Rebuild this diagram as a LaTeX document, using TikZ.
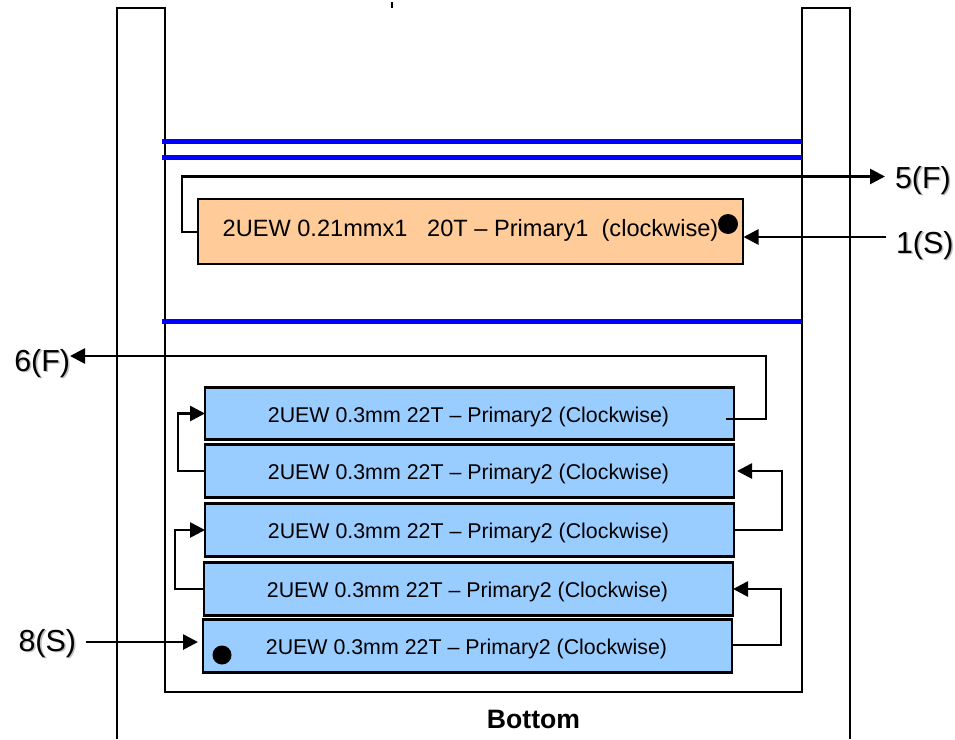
\documentclass[tikz,border=0pt]{standalone}
\usepackage{fontspec}
\setmainfont{Liberation Sans}
\usetikzlibrary{arrows.meta}
\definecolor{coilorange}{HTML}{FFCC99}
\definecolor{coilblue}{HTML}{99CCFF}
\definecolor{tapeblue}{HTML}{0000FF}
\newcommand{\shadowed}[1]{\rlap{\kern1.6pt\raisebox{-1.6pt}{\textcolor{black!25}{#1}}}#1}
\tikzset{
  bobbinline/.style={draw=black,line width=2.7pt,line join=miter},
  tape/.style={draw=tapeblue,line width=5pt},
  coil/.style={draw=black,line width=2.8pt,inner sep=0pt,outer sep=0pt,minimum height=#1},
  orangecoil/.style={coil=65pt,fill=coilorange,minimum width=545pt,font=\fontsize{23.6pt}{27pt}\selectfont,text height=14pt,text depth=5pt},
  bluecoil/.style={coil=52.5pt,fill=coilblue,minimum width=529pt,font=\fontsize{21.36pt}{25pt}\selectfont,text height=21.6pt,text depth=4.6pt,execute at begin node=\kern-2pt},
  wire/.style={draw=black,line width=2.7pt},
  arrowwire/.style={wire,-{Triangle[length=15pt,width=15pt]}},
  pin/.style={inner sep=0pt,outer sep=0pt,font=\fontsize{30.4pt}{35pt}\selectfont},
  dot/.style={circle,fill=black,inner sep=0pt,minimum size=#1},
  bottomlabel/.style={inner sep=0pt,font=\bfseries\fontsize{26.6pt}{30pt}\selectfont}
}
\begin{document}
\begin{tikzpicture}[x=1pt,y=-1pt]
\useasboundingbox (0,0) rectangle (955,739);
\fill[white] (0,0) rectangle (955,739);
% bobbin outline
\draw[bobbinline] (117,739) -- (117,8) -- (165,8) -- (165,692) -- (802,692) -- (802,8) -- (850,8) -- (850,739);
\draw[line width=2.4pt] (392,2) -- (392,8);
% tapes
\coordinate (t1l) at (162,141.5); \coordinate (t1r) at (802,141.5);
\coordinate (t2l) at (162,157);   \coordinate (t2r) at (802,157);
\coordinate (t3l) at (162,321.5); \coordinate (t3r) at (802,321.5);
\draw[tape] (t1l) -- (t1r);
\draw[tape] (t2l) -- (t2r);
\draw[tape] (t3l) -- (t3r);
% windings
\node[orangecoil] (p1) at (470.5,231.5) {2UEW 0.21mmx1\ \ \ 20T – Primary1\ \ (clockwise)};
\node[bluecoil] (b1) at (469.5,413.5) {2UEW 0.3mm 22T – Primary2 (Clockwise)};
\node[bluecoil] (b2) at (469.5,471) {2UEW 0.3mm 22T – Primary2 (Clockwise)};
\node[bluecoil] (b3) at (469.5,530) {2UEW 0.3mm 22T – Primary2 (Clockwise)};
\node[bluecoil] (b4) at (468.5,589) {2UEW 0.3mm 22T – Primary2 (Clockwise)};
\node[bluecoil] (b5) at (467.5,646) {2UEW 0.3mm 22T – Primary2 (Clockwise)};
\node[dot=20pt] (d1) at (728,224) {};
\node[dot=19pt] (d2) at (222,655) {};
% pin labels
\node[pin,anchor=west] (pin5) at (895,181) {\shadowed{5(F)}};
\node[pin,anchor=west] (pin1) at (896,246) {\shadowed{1(S)}};
\node[pin,anchor=east] (pin6) at (70,364) {\shadowed{6(F)}};
\node[pin,anchor=east] (pin8) at (76,644) {\shadowed{8(S)}};
\node[bottomlabel] (bot) at (533.5,719) {Bottom};
% free ends of connectors
\coordinate (w5a) at (182,232);
\coordinate (w5b) at (182,176.5);
\coordinate (w5c) at (885,176.5);
\coordinate (w1a) at (886,237);
\coordinate (w1b) at (743.5,237);
\coordinate (w6a) at (726,419);
\coordinate (w6b) at (766,419);
\coordinate (w6c) at (766,356);
\coordinate (w6d) at (70,356);
\coordinate (w8a) at (86,642);
\coordinate (w8b) at (198,642);
% connectors
\draw[arrowwire] (p1.west |- w5a) -- (w5a) -- (w5b) -- (w5c);
\draw[arrowwire] (w1a) -- (w1b);
\draw[arrowwire] (w6a) -- (w6b) -- (w6c) -- (w6d);
\draw[arrowwire] (w8a) -- (w8b);
\draw[arrowwire] (b2.west) -- ++(-27,0) |- (b1.west);
\draw[arrowwire,shorten >=3pt] (b3.east) -- ++(48,0) |- (b2.east);
\draw[arrowwire] (b4.west) -- ++(-29,0) |- (b3.west);
\draw[arrowwire] (b5.east) ++(0,-1) -- ++(49,0) |- (b4.east);
\end{tikzpicture}
\end{document}
